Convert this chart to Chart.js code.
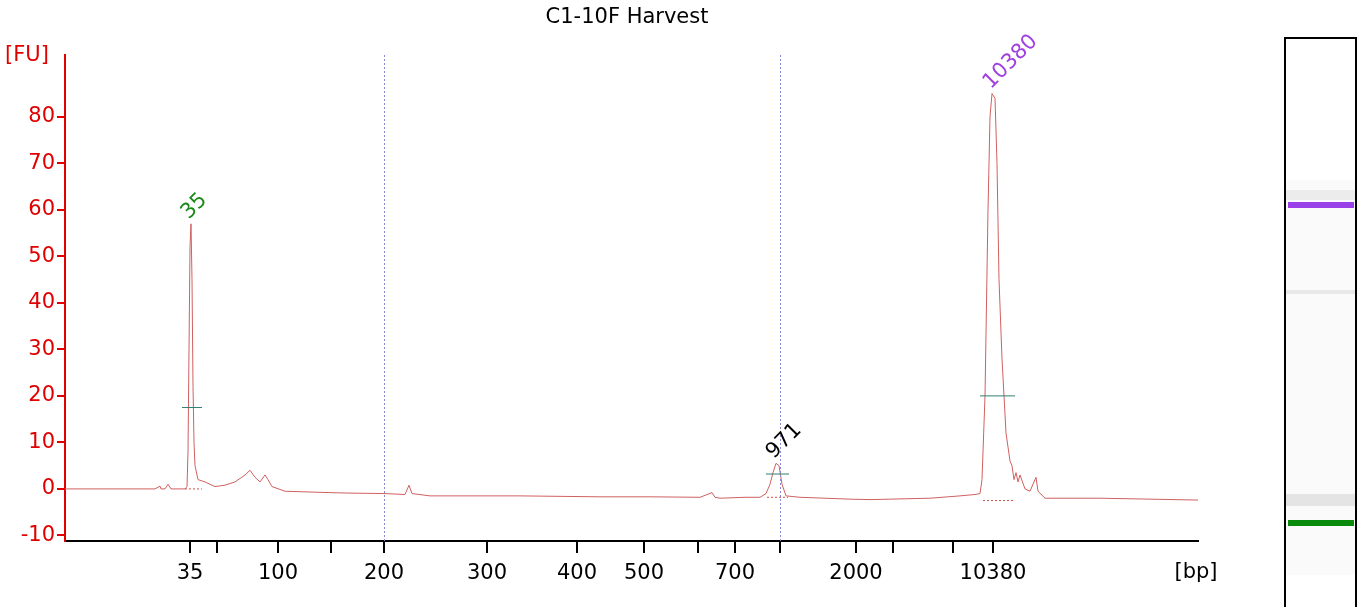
<!DOCTYPE html>
<html>
<head>
<meta charset="utf-8">
<script src="https://cdn.jsdelivr.net/npm/chart.js@4"></script>
<style>
  html, body { margin: 0; padding: 0; background: #fff; }
  #wrap { width: 1361px; height: 607px; position: relative; }
</style>
</head>
<body>
<div id="wrap"><canvas id="c"></canvas></div>
<script>
// trace: position along the run (x) and fluorescence (y)
const traceX = [65,155,160,161,165,168,171,185,187,188,189,190,191,192,193,194,195,198,205,215,225,235,245,250,255,260,265,268,272,285,300,330,350,384,395,405,409,412,430,520,600,650,700,712,715,720,745,760,766,770,773,776,779,782,786,800,850,870,930,960,975,980,982,985,988,990,992,995,997,999,1002,1006,1010,1012,1014,1016,1018,1020,1025,1030,1036,1038,1045,1100,1150,1198];
const traceY = [0,0,0.6,0,0,1,0,0,0.5,8,30,52,57,45,22,10,5,2,1.5,0.5,0.8,1.5,3,4,2.5,1.5,3,2,0.5,-0.5,-0.6,-0.8,-0.9,-1,-1.1,-1.2,0.8,-1,-1.5,-1.5,-1.7,-1.7,-1.8,-0.8,-1.8,-2,-1.8,-1.8,-1,1,3.5,5.5,5,1,-1.5,-1.8,-2.2,-2.3,-2,-1.5,-1.2,-1,2,20,60,80,85,84,70,45,28,12,6,5,2,3.5,1.5,3,0,-0.5,2.5,-0.5,-2,-2,-2.2,-2.4];

// x-axis ticks: position and label
const xTickPos = [190,217,278,331,384,487,577,644,698,735,780,856,893,953,993];
const xTickLabels = ["35","","100","","200","300","400","500","","700","","2000","","","10380"];
const yTicks = [-10,0,10,20,30,40,50,60,70,80];

// peaks: position, height, label, colour, half-height marker, baseline span
const peakPos = [191,776,993];
const peakTop = [57,5.5,85];
const peakLabels = ["35","971","10380"];
const peakColors = ["#1a8a1a","#000000","#a040e0"];
const halfHeight = [17.5,3.2,20];
const halfSpan = [[182,202],[766,789],[980,1015]];
const baseSpan = [[185,202,0],[767,788,-1.8],[983,1015,-2.5]];
const markerLines = [384,780];

const font = "DejaVu Sans";
const points = traceX.map((x, i) => ({ x, y: traceY[i] }));

const extras = {
  id: "extras",
  afterDatasetsDraw(chart) {
    const { ctx, scales: { x, y }, chartArea: a } = chart;
    ctx.save();
    // dotted marker lines
    ctx.strokeStyle = "#8a8ad0"; ctx.lineWidth = 1; ctx.setLineDash([2, 2]);
    markerLines.forEach(p => {
      ctx.beginPath(); ctx.moveTo(x.getPixelForValue(p) + 0.5, a.top); ctx.lineTo(x.getPixelForValue(p) + 0.5, a.bottom); ctx.stroke();
    });
    // baselines
    ctx.strokeStyle = "#d05050"; ctx.setLineDash([2, 2]);
    baseSpan.forEach(b => {
      ctx.beginPath(); ctx.moveTo(x.getPixelForValue(b[0]), y.getPixelForValue(b[2])); ctx.lineTo(x.getPixelForValue(b[1]), y.getPixelForValue(b[2])); ctx.stroke();
    });
    ctx.setLineDash([]);
    // half-height markers
    ctx.strokeStyle = "#2f7f70";
    halfHeight.forEach((h, i) => {
      ctx.beginPath(); ctx.moveTo(x.getPixelForValue(halfSpan[i][0]), y.getPixelForValue(h)); ctx.lineTo(x.getPixelForValue(halfSpan[i][1]), y.getPixelForValue(h)); ctx.stroke();
    });
    // peak labels
    ctx.font = "21px '" + font + "'"; ctx.textBaseline = "middle";
    peakLabels.forEach((t, i) => {
      const px = x.getPixelForValue(peakPos[i]), py = y.getPixelForValue(peakTop[i]);
      ctx.save(); ctx.translate(px - 6, py - 8); ctx.rotate(-Math.PI / 4);
      ctx.fillStyle = peakColors[i]; ctx.textAlign = "left"; ctx.fillText(t, 0, 0); ctx.restore();
    });
    // title and axis units
    ctx.fillStyle = "#000"; ctx.textAlign = "center"; ctx.font = "21px '" + font + "'";
    ctx.fillText("C1-10F Harvest", 627, 18);
    ctx.fillStyle = "#e00000"; ctx.fillText("[FU]", 27, 56);
    ctx.fillStyle = "#000"; ctx.fillText("[bp]", 1196, 573);
    // gel lane
    ctx.fillStyle = "#fff"; ctx.fillRect(1284, 38, 73, 569);
    ctx.fillStyle = "#fafafa"; ctx.fillRect(1286, 180, 70, 395);
    ctx.fillStyle = "#ececec"; ctx.fillRect(1286, 190, 70, 10);
    ctx.fillStyle = "#e8e8e8"; ctx.fillRect(1286, 290, 70, 4);
    ctx.fillStyle = "#e4e4e4"; ctx.fillRect(1286, 494, 70, 12);
    ctx.fillStyle = "#9a40e8"; ctx.fillRect(1288, 202, 66, 6);
    ctx.fillStyle = "#0a8a0a"; ctx.fillRect(1288, 520, 66, 6);
    ctx.strokeStyle = "#000"; ctx.lineWidth = 2;
    ctx.beginPath(); ctx.moveTo(1285, 607); ctx.lineTo(1285, 38); ctx.lineTo(1356, 38); ctx.lineTo(1356, 607); ctx.stroke();
    ctx.restore();
  }
};

new Chart(document.getElementById("c"), {
  type: "line",
  data: { datasets: [{ data: points, borderColor: "#d06060", borderWidth: 1, pointRadius: 0, tension: 0, fill: false }] },
  options: {
    responsive: true, maintainAspectRatio: false, animation: false,
    layout: { padding: { top: 55, right: 163, left: 0, bottom: 0 } },
    plugins: { legend: { display: false }, tooltip: { enabled: false } },
    scales: {
      x: {
        type: "linear", min: 65, max: 1198,
        afterBuildTicks: s => { s.ticks = xTickPos.map(v => ({ value: v })); },
        afterFit: s => { s.height = 66; },
        ticks: { autoSkip: false, maxRotation: 0, color: "#000", font: { family: font, size: 21 }, padding: 8,
          callback: (v, i) => xTickLabels[i] },
        grid: { drawOnChartArea: false, color: "#000", tickLength: 12, lineWidth: 2 },
        border: { color: "#000", width: 2 }
      },
      y: {
        min: -11.2, max: 93.3,
        afterBuildTicks: s => { s.ticks = yTicks.map(v => ({ value: v })); },
        afterFit: s => { s.width = 65; },
        ticks: { color: "#e00000", font: { family: font, size: 21 }, padding: 2 },
        grid: { drawOnChartArea: false, color: "#e00000", tickLength: 8, lineWidth: 2 },
        border: { color: "#e00000", width: 2 }
      }
    }
  },
  plugins: [extras]
});
</script>
</body>
</html>
